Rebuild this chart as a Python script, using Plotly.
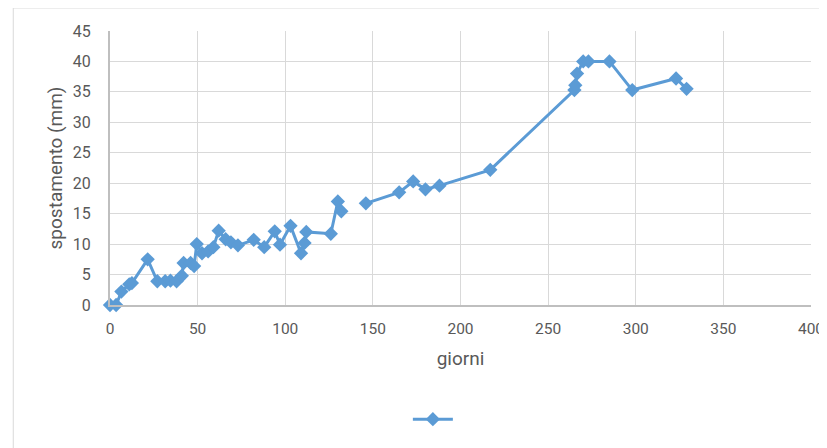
import plotly.graph_objects as go

# giorni / spostamento (mm); None = interruzione della linea
giorni = [0, 3.5, 6.5, 11, 12.5, 21.5, 27, 31.5, 34.5, 38, 41, 42, 46, 48, 49.5,
          52.5, 56, 59, 62, 66, 69, 73, 82, 88, 94, 97, 103, 109, 111, 112, 126,
          130, 132, None, 146, 165, 173, 180, 188, 217, 265, 265.5, 266.5, 270,
          273, 285, 298, 323, 329]
spostamento = [0, 0, 2.2, 3.4, 3.6, 7.5, 3.9, 3.9, 4.0, 3.9, 4.8, 6.9, 6.9, 6.4, 10.0,
               8.5, 8.8, 9.5, 12.2, 10.8, 10.3, 9.8, 10.7, 9.5, 12.1, 9.9, 13.0, 8.5,
               10.2, 12.0, 11.7, 17.0, 15.4, None, 16.7, 18.5, 20.3, 19.0, 19.6, 22.2,
               35.3, 36.1, 38.0, 40.0, 40.0, 40.0, 35.3, 37.2, 35.5]

blu = '#5b9bd5'
grigio = '#595959'

fig = go.Figure()
fig.add_trace(go.Scatter(
    x=giorni, y=spostamento,
    mode='lines+markers',
    name=' ',
    line=dict(color=blu, width=3),
    marker=dict(symbol='diamond', size=11, color=blu),
    connectgaps=False,
    cliponaxis=False,
    showlegend=True,
))

font = dict(family='Roboto, sans-serif', size=16, color=grigio)

# la pagina html ha un margine di 8px: margini ridotti di conseguenza
fig.update_layout(
    width=827, height=448,
    margin=dict(l=102, r=24, t=23, b=151),
    paper_bgcolor='white', plot_bgcolor='white',
    font=font,
    legend=dict(orientation='h', x=0.467, xanchor='center', y=-0.418, yanchor='middle',
                font=dict(size=14), itemwidth=40),
    xaxis=dict(
        range=[0, 400], dtick=50, showgrid=True, gridcolor='#d9d9d9', gridwidth=1,
        zeroline=False, showline=True, linecolor='#bfbfbf', linewidth=2,
        title=dict(text='giorni', standoff=15, font=dict(size=19)),
        ticklabelstandoff=8, tickfont=dict(size=15.5),
    ),
    yaxis=dict(
        range=[0, 45], dtick=5, showgrid=True, gridcolor='#d9d9d9', gridwidth=1,
        zeroline=False, showline=True, linecolor='#bfbfbf', linewidth=2,
        title=dict(text='spostamento (mm)', standoff=5, font=dict(size=19)),
        ticklabelstandoff=14,
    ),
)

# cornice esterna del grafico
fig.add_shape(type='rect', xref='paper', yref='paper',
              x0=-0.138, x1=1.2, y0=-0.7, y1=1.084,
              line=dict(color='#d9d9d9', width=1), layer='below')

fig.write_html('out.html')
